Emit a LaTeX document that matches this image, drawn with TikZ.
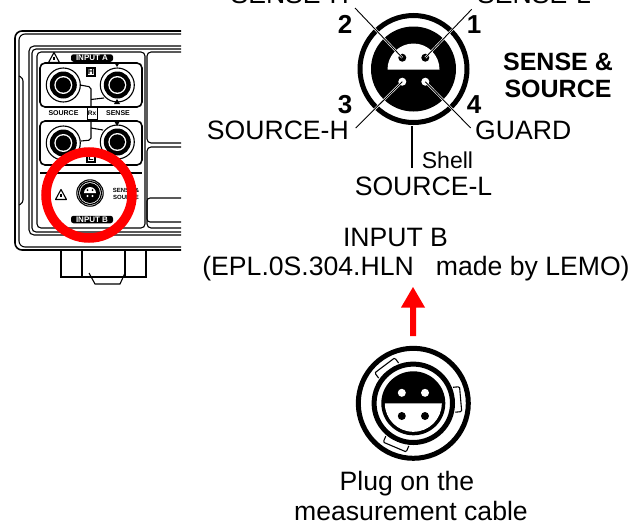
\documentclass[tikz,border=0pt]{standalone}
\usepackage{fontspec}
\usetikzlibrary{calc}
\setmainfont{Liberation Sans}
\tikzset{
  lbl/.style={inner sep=0pt,font=\fontsize{26.6}{26.6}\selectfont,anchor=base},
  num/.style={inner sep=0pt,font=\fontsize{26}{26}\selectfont\bfseries,anchor=base},
  lead/.style={black,line width=0.9pt},
  halo/.style={white,line width=2.2pt},
  pl/.style={black,line width=1.1pt},
  plb/.style={black,line width=1.6pt},
  tiny/.style={inner sep=0pt,font=\fontsize{7}{7}\selectfont\bfseries},
  tag/.style={fill=black,text=white,rounded corners=2.5pt,minimum width=42pt,minimum height=7.5pt,inner sep=0pt,font=\fontsize{8}{8}\selectfont\bfseries},
}
\newcommand{\jack}[2]{%
  \fill[white] (#1,#2) circle (17);
  \draw[pl] (#1,#2) circle (17);
  \fill[black] (#1,#2) circle (13.5);
  \fill[white] (#1,#2) circle (9);
  \fill[black] (#1,#2) circle (7.6);
}
\newcommand{\warn}[2]{%
  \draw[pl,line join=round] (#1-5.5,#2+4.5) -- (#1,#2-5.5) -- (#1+5.5,#2+4.5) -- cycle;
  \draw[pl] (#1,#2-1.5) -- (#1,#2+2);
}
\begin{document}
\begin{tikzpicture}[x=1pt,y=-1pt]
\useasboundingbox (0,0) rectangle (631,525);
\clip (0,0) rectangle (631,525);
% front panel
\begin{scope}
\clip (0,0) rectangle (181,525);
\draw[plb,rounded corners=7pt] (190,31) -- (15,31) -- (15,250) -- (190,250);
\draw[pl,rounded corners=6pt] (190,34) -- (19,34) -- (19,247) -- (190,247);
\draw[pl,rounded corners=3pt] (19,76) -- (23,78) -- (23,203) -- (19,205);
\draw[pl,rounded corners=5pt] (190,46) -- (29,46) -- (29,235) -- (190,235);
\draw[pl,rounded corners=4pt] (190,49) -- (32,49) -- (32,232) -- (190,232);
\draw[pl,rounded corners=4pt] (37,52) rectangle (145,228);
\draw[pl] (40,173) -- (142,173);
\draw[pl,rounded corners=4pt] (190,52) -- (147,52) -- (147,143) -- (190,143);
\draw[pl,rounded corners=4pt] (190,147) -- (147,147) -- (147,228) -- (190,228);
\draw[pl,rounded corners=3pt] (190,198) -- (147,198) -- (147,222) -- (190,222);
\draw[plb,rounded corners=5pt] (40,107) -- (40,63) -- (142,63) -- (142,107) -- cycle;
\draw[plb,rounded corners=5pt] (40,165) -- (40,121) -- (142,121) -- (142,165) -- cycle;
\jack{63.3}{85}
\jack{117.3}{85}
\jack{63.3}{143}
\jack{117.3}{142}
\draw[pl,rounded corners=2pt] (80,85) -- (91,87) -- (91,108);
\draw[pl] (91,99.5) -- (104,98);
\draw[pl,rounded corners=2pt] (91,118) -- (91,140) -- (81,141);
\draw[pl] (91,128) -- (103,130);
\node[draw=black,line width=1pt,fill=white,minimum width=10pt,minimum height=12pt,inner sep=0pt,font=\fontsize{6.5}{6.5}\selectfont\bfseries] (rx) at (92,113) {Rx};
\node[fill=white,draw=black,line width=1.8pt,minimum size=8pt,inner sep=0pt,font=\fontsize{8.5}{8.5}\selectfont\bfseries] (hbox) at (91,72) {H};
\node[fill=white,draw=black,line width=1.8pt,minimum size=8pt,inner sep=0pt,font=\fontsize{8.5}{8.5}\selectfont\bfseries] (lbox) at (91,158) {L};
\fill (114,62) -- (120,62) -- (117,67) -- cycle;
\fill (114,104) -- (120,104) -- (117,99) -- cycle;
\fill (114,121) -- (120,121) -- (117,126) -- cycle;
\node[tag] (ina) at (92,58) {INPUT A};
\node[tag] (inb) at (92,219.5) {INPUT B};
\node[tiny] (tsrc) at (63.5,113) {SOURCE};
\node[tiny] (tsen) at (118,113.5) {SENSE};
\node[tiny,font=\fontsize{6}{6}\selectfont\bfseries] (ts1) at (126,190) {SENSE \&};
\node[tiny,font=\fontsize{6}{6}\selectfont\bfseries] (ts2) at (126,197) {SOURCE};
\warn{54}{58}
\warn{61}{195}
\draw[pl] (90,193) circle (13.2);
\draw[line width=1.2pt] (90,193) circle (11.5);
\fill (90,193) circle (10);
\fill[white] (84,193) arc[start angle=180,end angle=360,radius=6] -- cycle;
\fill (87.5,190) circle (1) (92.5,190) circle (1);
\fill[white] (87.5,196) circle (1.1) (92.5,196) circle (1.1);
\draw[plb] (61,250) -- (61,277) -- (146,277) -- (146,250);
\draw[plb] (82,250) -- (82,277) (125,250) -- (125,277);
\draw[pl] (89,273) -- (95,284) -- (120,284) -- (125,273);
\draw[line width=9.5pt,red] (89,195) circle (43);
\end{scope}
% connector, socket
\coordinate (sc) at (413.5,69);
\draw[black,line width=5pt] (sc) circle (53.5);
\fill (sc) circle (42.5);
\fill[white] (387.5,69.5) arc[start angle=180,end angle=360,radius=26] -- cycle;
\fill (402.3,57.7) circle (4);
\fill (425.3,57.7) circle (4);
\coordinate (p2) at (402.3,57.7);
\coordinate (p1) at (425.3,57.7);
\coordinate (p3) at (402.3,81.7);
\coordinate (p4) at (425.3,81.7);
\fill[white] (p3) circle (4);
\fill[white] (p4) circle (4);
\coordinate (l2) at (355,8);
\coordinate (l1) at (471.7,9.3);
\coordinate (l3) at (355.7,128);
\coordinate (l4) at (470.7,128);
\foreach \a/\b in {l2/p2,l1/p1,l3/p3,l4/p4}{\draw[halo] ($(\a)!0.32!(\b)$) -- (\b);}
\foreach \a/\b in {l2/p2,l1/p1,l3/p3,l4/p4}{\draw[lead] (\a) -- (\b);}
\coordinate (sh) at (411.7,126);
\coordinate (shb) at (411.7,168);
\draw[black,line width=2pt] (sh) -- (shb);
% labels
\node[lbl,anchor=base east] (senseh) at (349,3) {SENSE-H};
\node[lbl,anchor=base west] (sensel) at (477,3) {SENSE-L};
\node[lbl,anchor=base east] (sourceh) at (349,139) {SOURCE-H};
\node[lbl,anchor=base west] (guard) at (475,139) {GUARD};
\node[inner sep=0pt,anchor=base west,font=\fontsize{23}{23}\selectfont] (shell) at (421.7,168) {Shell};
\node[lbl] (sourcel) at (423.5,195) {SOURCE-L};
\node[num] (n2) at (345,33.5) {2};
\node[num] (n1) at (474,33.5) {1};
\node[num] (n3) at (345,113) {3};
\node[num] (n4) at (474,113) {4};
\node[inner sep=0pt,anchor=base,font=\fontsize{25}{25}\selectfont\bfseries] (ss1) at (558,70) {SENSE \&};
\node[inner sep=0pt,anchor=base,font=\fontsize{25}{25}\selectfont\bfseries] (ss2) at (558,97) {SOURCE};
\node[lbl] (inpb) at (395.5,246) {INPUT B};
\node[lbl] (epl) at (416,275) {(EPL.0S.304.HLN\ \ \ made by LEMO)};
% arrow
\coordinate (as) at (413,336);
\coordinate (at) at (413,287);
\fill[red] (410,336) -- (410,307.5) -- (401,307.5) -- (413,287) -- (425,307.5) -- (416,307.5) -- (416,336) -- cycle;
% plug
\coordinate (pc) at (413.3,403.3);
\draw[line width=5pt] (pc) circle (55);
\draw[line width=5pt] (pc) circle (39.2);
\foreach \ang in {-113,5,127}{
  \begin{scope}[shift={(pc)},rotate=\ang]
  \fill[white] (42,-11.5) rectangle (47.5,11.5);
  \draw[line width=1.1pt] (41,-12.5) -- (46,-12.5) -- (47.5,-11.5) -- (47.5,11.5) -- (46,12.5) -- (41,12.5);
  \end{scope}
}
\fill (pc) circle (31);
\fill[white] (441.8,403.3) arc[start angle=0,end angle=180,radius=28.5] -- cycle;
\draw[line width=3pt] (pc) circle (30.5);
\fill[white] (401.8,392.8) circle (4);
\fill[white] (425,392.8) circle (4);
\fill (401.8,416) circle (4);
\fill (425,416) circle (4);
\node[lbl] (plug) at (407,490) {Plug on the};
\node[lbl] (meas) at (411,520) {measurement cable};
\end{tikzpicture}
\end{document}
